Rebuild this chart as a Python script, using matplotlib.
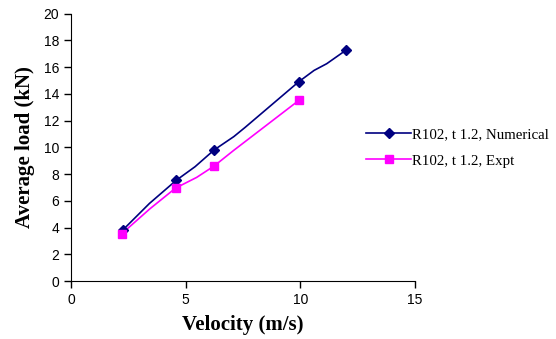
import matplotlib
matplotlib.use("Agg")
import matplotlib.pyplot as plt

# Values
num_x = [2.25, 4.58, 6.24, 9.93, 11.98]
num_y = [3.8, 7.52, 9.8, 14.9, 17.25]
exp_x = [2.22, 4.56, 6.24, 9.93]
exp_y = [3.55, 6.95, 8.6, 13.5]

# the plotted curves bend between markers (smoothed in the source)
num_line_x = [2.25, 3.42, 4.58, 5.41, 6.24, 7.1, 7.6, 9.93, 10.6, 11.15, 11.98]
num_line_y = [3.8, 5.8, 7.52, 8.55, 9.8, 10.8, 11.5, 14.9, 15.75, 16.25, 17.25]
exp_line_x = [2.22, 3.44, 4.56, 5.48, 6.24, 7.08, 9.93]
exp_line_y = [3.55, 5.4, 6.95, 7.75, 8.6, 9.75, 13.5]

labels = ["R102, t 1.2, Numerical", "R102, t 1.2, Expt"]

fig = plt.figure(figsize=(5.56, 3.39), dpi=100)
ax = fig.add_axes([0.1277, 0.171, 0.6187, 0.789])

ax.plot(num_line_x, num_line_y, color="#000080", linewidth=1.2)
ax.plot(exp_line_x, exp_line_y, color="#FF00FF", linewidth=1.2)
ax.plot(num_x, num_y, linestyle="None", marker="D", markersize=5.5, color="#000080")
ax.plot(exp_x, exp_y, linestyle="None", marker="s", markersize=6, color="#FF00FF")

# legend proxies
h1, = ax.plot([], [], color="#000080", linewidth=1.2, marker="D", markersize=5.5)
h2, = ax.plot([], [], color="#FF00FF", linewidth=1.2, marker="s", markersize=6)
fig.legend([h1, h2], labels, loc="center left", bbox_to_anchor=(0.635, 0.565),
           frameon=False, handlelength=3.0, handletextpad=0.05, labelspacing=0.9,
           prop={"family": "Liberation Serif", "size": 10.7})

ax.set_xlim(0, 15)
ax.set_ylim(0, 20)
ax.set_xticks([0, 5, 10, 15])
ax.set_yticks(range(0, 21, 2))
for s in ["top", "right"]:
    ax.spines[s].set_visible(False)
ax.tick_params(direction="out", length=5, width=1, labelsize=10)
for t in ax.get_xticklabels() + ax.get_yticklabels():
    t.set_family("Liberation Sans")

ax.set_xlabel("Velocity (m/s)", family="Liberation Serif", fontweight="bold", fontsize=15, labelpad=6)
ax.set_ylabel("Average load (kN)", family="Liberation Serif", fontweight="bold", fontsize=15, labelpad=6)

fig.savefig("out.png", dpi=100)
